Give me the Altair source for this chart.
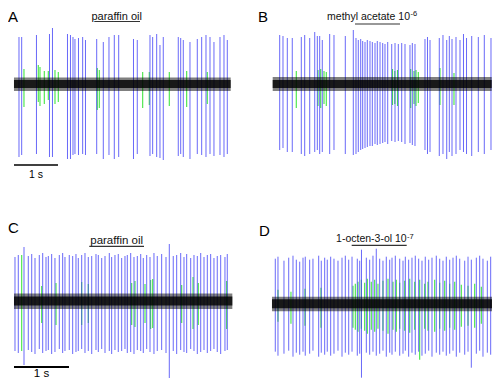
import altair as alt
import pandas as pd

# ---------------- data (time in s, amplitude in arbitrary units) ----------------
# Panel A: paraffin oil
A_blue_t = [0.114, 0.175, 0.511, 0.807, 0.875, 1.216, 1.284, 1.341, 1.386, 1.466, 1.561, 1.625,
            1.880, 2.030, 2.159, 2.280, 2.380, 2.716, 2.802, 3.091, 3.152, 3.243, 3.318, 3.393,
            3.734, 3.789, 3.848, 4.000, 4.166, 4.266, 4.364, 4.455, 4.545, 4.682, 4.773, 4.848]
A_blue_top = [47, 47, 49, 50, 56, 50, 49, 47, 45, 46, 47, 44, 45, 42, 47, 49, 49, 45, 44, 49,
              47, 50, 39, 47, 47, 46, 44, 42, 45, 47, 49, 47, 42, 47, 49, 44]
A_blue_bot = [-73, -71, -70, -73, -73, -75, -75, -71, -70, -71, -70, -71, -70, -75, -71, -75,
              -73, -75, -70, -72, -70, -73, -74, -76, -72, -70, -73, -75, -70, -71, -73, -70,
              -72, -71, -73, -70]
A_green_t = [0.227, 0.552, 0.591, 0.689, 0.780, 0.932, 1.007, 1.893, 1.939, 2.925, 3.075, 3.530, 3.925, 4.393]
A_green_top = [15, 19, 17, 13, 13, 14, 12, 16, 14, 12, 12, 12, 13, 12]
A_green_bot = [-23, -18, -22, -20, -16, -20, -18, -26, -24, -24, -21, -22, -23, -20]

# Panel B: methyl acetate 10^-6
B_blue_t = [0.159, 0.234, 0.332, 0.445, 0.650, 0.727, 0.841, 0.955, 1.014, 1.068, 1.127, 1.295,
            1.393, 1.650, 1.832, 1.893, 1.945, 2.000, 2.045, 2.098, 2.150, 2.211, 2.264, 2.325,
            2.377, 2.439, 2.500, 2.552, 2.614, 2.705, 2.780, 2.855, 2.932, 3.007, 3.120, 3.173,
            3.234, 3.461, 3.518, 3.575, 3.786, 3.870, 3.955, 4.014, 4.075, 4.166, 4.257, 4.336,
            4.405, 4.523, 4.673, 4.809, 4.961]
B_blue_top = [49, 48, 46, 46, 47, 49, 46, 52, 48, 48, 44, 50, 49, 48, 54, 46, 44, 45, 43, 42,
              44, 43, 42, 41, 43, 42, 41, 40, 42, 40, 41, 40, 41, 40, 39, 41, 40, 45, 47, 44,
              46, 49, 44, 48, 45, 47, 44, 50, 46, 48, 47, 49, 46]
B_blue_bot = [-66, -64, -68, -68, -70, -72, -70, -68, -66, -70, -68, -70, -66, -70, -71, -70,
              -68, -66, -65, -64, -63, -62, -62, -60, -61, -60, -59, -58, -60, -57, -58, -57,
              -58, -60, -59, -61, -62, -66, -70, -68, -72, -70, -75, -68, -72, -70, -66, -68,
              -70, -72, -68, -70, -66]
B_green_t = [0.536, 1.030, 1.091, 1.166, 1.218, 2.723, 2.775, 2.836, 3.136, 3.211, 3.257, 3.309, 3.802, 4.120]
B_green_top = [13, 14, 15, 13, 12, 15, 13, 14, 15, 13, 14, 12, 16, 11]
B_green_bot = [-24, -22, -24, -20, -22, -21, -20, -22, -24, -20, -22, -19, -21, -21]

# Panel C: paraffin oil
C_blue_t = [0.018, 0.078, 0.182, 0.260, 0.322, 0.382, 0.460, 0.522, 0.582, 0.624, 0.685, 0.745,
            0.824, 0.885, 0.927, 1.005, 1.067, 1.127, 1.169, 1.231, 1.291, 1.351, 1.413, 1.491,
            1.533, 1.595, 1.655, 1.733, 1.776, 1.836, 1.896, 1.958, 2.018, 2.060, 2.122, 2.182,
            2.242, 2.304, 2.351, 2.413, 2.473, 2.545, 2.605, 2.685, 2.764, 2.824, 2.896, 2.958,
            3.031, 3.091, 3.140, 3.213, 3.273, 3.333, 3.395, 3.455, 3.515, 3.576, 3.636, 3.696,
            3.758, 3.836, 3.878]
C_blue_top = [44, 46, 54, 45, 47, 43, 46, 48, 44, 45, 47, 43, 46, 48, 44, 46, 45, 47, 43, 46,
              48, 44, 45, 47, 46, 43, 45, 48, 44, 46, 47, 43, 45, 46, 48, 44, 45, 47, 43, 46,
              44, 48, 45, 47, 44, 57, 45, 46, 48, 44, 47, 43, 46, 45, 48, 44, 46, 47, 43, 45,
              46, 44, 47]
C_blue_bot = [-50, -52, -64, -49, -51, -53, -48, -52, -50, -49, -53, -51, -48, -52, -50, -49,
              -53, -51, -50, -48, -52, -50, -53, -49, -51, -48, -52, -50, -53, -49, -51, -50,
              -48, -52, -51, -53, -49, -50, -52, -48, -51, -53, -50, -49, -52, -78, -50, -53,
              -49, -51, -52, -48, -50, -53, -51, -49, -52, -50, -48, -51, -53, -50, -49]
C_green_t = [0.140, 0.504, 0.764, 1.231, 1.351, 2.140, 2.200, 2.382, 2.485, 2.522, 3.049, 3.255, 3.351, 3.867]
C_green_top = [46, 15, 18, 19, 17, 18, 20, 17, 21, 22, 16, 24, 18, 20]
C_green_bot = [-50, -22, -24, -24, -22, -24, -26, -22, -28, -27, -22, -28, -24, -28]

# Panel D: 1-octen-3-ol 10^-7
D_blue_t = [0.060, 0.109, 0.218, 0.304, 0.382, 0.442, 0.504, 0.564, 0.605, 0.685, 0.745, 0.849,
            0.896, 0.958, 1.005, 1.067, 1.127, 1.200, 1.273, 1.333, 1.395, 1.455, 1.551, 1.595,
            1.627, 1.715, 1.776, 1.836, 1.896, 1.958, 2.018, 2.078, 2.140, 2.182, 2.242, 2.322,
            2.382, 2.424, 2.485, 2.545, 2.605, 2.667, 2.727, 2.787, 2.849, 2.909, 2.987, 3.049,
            3.109, 3.169, 3.231, 3.291, 3.351, 3.413, 3.504, 3.564, 3.624, 3.715, 3.776, 3.836,
            3.915, 3.976, 4.036, 4.109]
D_blue_top = [45, 47, 43, 46, 48, 44, 42, 46, 47, 44, 45, 48, 43, 46, 44, 47, 45, 43, 46, 48,
              44, 47, 45, 43, 54, 46, 44, 48, 55, 45, 43, 47, 44, 46, 48, 45, 43, 47, 44, 46,
              48, 45, 43, 47, 44, 46, 48, 45, 43, 47, 44, 46, 48, 45, 43, 47, 44, 46, 48, 45,
              43, 47, 44, 46]
D_blue_bot = [-48, -52, -50, -47, -53, -49, -51, -48, -52, -50, -47, -53, -49, -51, -48, -52,
              -50, -47, -53, -49, -51, -48, -52, -50, -74, -49, -51, -48, -52, -50, -47, -53,
              -49, -51, -48, -52, -50, -47, -53, -49, -51, -48, -52, -50, -47, -53, -49, -51,
              -48, -52, -50, -47, -53, -49, -51, -48, -64, -50, -47, -53, -49, -51, -48, -52]
D_green_t = [0.109, 0.345, 0.600, 0.891, 1.473, 1.515, 1.564, 1.624, 1.685, 1.733, 1.805, 1.867,
             1.927, 2.018, 2.109, 2.200, 2.260, 2.322, 2.413, 2.504, 2.595, 2.685, 2.776, 2.836,
             2.958, 3.049, 3.140, 3.231, 3.322, 3.442, 3.564, 3.685, 3.806]
D_green_top = [14, 12, 15, 16, 18, 20, 22, 24, 21, 25, 22, 24, 20, 23, 25, 22, 24, 21, 23, 25,
               22, 24, 20, 22, 24, 21, 23, 20, 22, 19, 18, 20, 17]
D_green_bot = [-18, -20, -22, -24, -24, -26, -28, -25, -27, -30, -26, -28, -25, -27, -30, -26,
               -28, -25, -27, -29, -26, -56, -25, -27, -28, -25, -27, -24, -26, -23, -22, -24, -20]

# recording durations (s), noise band levels (core and fringe), stimulus periods (s)
durations = [4.925, 4.977, 3.970, 4.145]
noise_core = [4.0, 4.0, 4.5, 4.5]
noise_hi = [6.5, 7.0, 7.5, 7.0]
noise_lo = [-7.0, -7.0, -8.0, -7.5]
stim_on = [1.825, 1.870, 1.369, 1.449]
stim_off = [2.864, 2.893, 2.364, 2.449]
odor_labels = ["paraffin oil", "methyl acetate 10", "paraffin oil", "1-octen-3-ol 10"]
odor_exps = ["", "-6", "", "-7"]
panel_letters = ["A", "B", "C", "D"]

FONT = "Liberation Sans"
BLUE = "#4343f6"
GREEN = "#22e022"


def panel(i, bt, btop, bbot, gt, gtop, gbot, xdom, ydom, size, lab, sup, letter_pos, scalebar):
    xs = alt.Scale(domain=xdom, nice=False, zero=False)
    ys = alt.Scale(domain=ydom, nice=False, zero=False)

    def X(f):
        return alt.X(f, type="quantitative", scale=xs, axis=None)

    def Y(f):
        return alt.Y(f, type="quantitative", scale=ys, axis=None)

    blue = pd.DataFrame({"t": bt, "top": btop, "bot": bbot})
    green = pd.DataFrame({"t": gt, "top": gtop, "bot": gbot})
    noise = pd.DataFrame({"t0": [0.0], "t1": [durations[i]], "hi": [noise_hi[i]], "lo": [noise_lo[i]],
                          "chi": [noise_core[i]], "clo": [-noise_core[i]]})
    stim = pd.DataFrame({"on": [stim_on[i]], "off": [stim_off[i]], "v": [lab["bar_v"]]})

    layers = [
        alt.Chart(green).mark_rule(color=GREEN, strokeWidth=1.1, opacity=0.85, clip=True).encode(
            x=X("t"), y=Y("top"), y2=alt.Y2("bot")),
        alt.Chart(blue).mark_rule(color=BLUE, strokeWidth=1, opacity=0.8, clip=True).encode(
            x=X("t"), y=Y("top"), y2=alt.Y2("bot")),
        alt.Chart(noise).mark_rect(color="#000000", opacity=0.5, clip=True).encode(
            x=X("t0"), x2=alt.X2("t1"), y=Y("hi"), y2=alt.Y2("lo")),
        alt.Chart(noise).mark_rect(color="#000000", opacity=0.8, clip=True).encode(
            x=X("t0"), x2=alt.X2("t1"), y=Y("chi"), y2=alt.Y2("clo")),
        alt.Chart(stim).mark_rule(color="#333333", strokeWidth=1.2).encode(
            x=X("on"), x2=alt.X2("off"), y=Y("v")),
    ]
    title = pd.DataFrame({"t": [lab["t"]], "v": [lab["v"]], "s": [odor_labels[i]]})
    layers.append(alt.Chart(title).mark_text(
        font=FONT, fontSize=lab["size"], align=lab["align"], baseline="alphabetic", color="#111111"
    ).encode(x=X("t"), y=Y("v"), text="s:N"))
    if odor_exps[i]:
        sp = pd.DataFrame({"t": [sup["t"]], "v": [sup["v"]], "s": [odor_exps[i]]})
        layers.append(alt.Chart(sp).mark_text(
            font=FONT, fontSize=7.5, align="left", baseline="alphabetic", color="#111111"
        ).encode(x=X("t"), y=Y("v"), text="s:N"))
    if scalebar:
        sb = pd.DataFrame({"a": [0.0], "b": [1.0], "v": [scalebar["v"]]})
        layers.append(alt.Chart(sb).mark_rule(color="#000000", strokeWidth=scalebar["w"]).encode(
            x=X("a"), x2=alt.X2("b"), y=Y("v")))
        st = pd.DataFrame({"t": [0.5], "v": [scalebar["tv"]], "s": ["1 s"]})
        layers.append(alt.Chart(st).mark_text(
            font=FONT, fontSize=scalebar["fs"], align="center", baseline="alphabetic", color="#000000"
        ).encode(x=X("t"), y=Y("v"), text="s:N"))
    lt = pd.DataFrame({"s": [panel_letters[i]]})
    layers.append(alt.Chart(lt).mark_text(
        font=FONT, fontSize=15, align="left", baseline="alphabetic", color="#000000"
    ).encode(x=alt.value(letter_pos[0]), y=alt.value(letter_pos[1]), text="s:N"))
    return alt.layer(*layers).properties(width=size[0], height=size[1])


pA = panel(0, A_blue_t, A_blue_top, A_blue_bot, A_green_t, A_green_top, A_green_bot,
           [-0.136, 5.455], [-115, 76], (246, 191),
           {"t": 2.334, "v": 64.5, "size": 11, "align": "center", "bar_v": 62.5}, None,
           (0, 14), {"v": -81, "w": 1.5, "tv": -94.3, "fs": 10.5})
pB = panel(1, B_blue_t, B_blue_top, B_blue_bot, B_green_t, B_green_top, B_green_bot,
           [-0.425, 4.984], [-115, 76], (238, 191),
           {"t": 3.120, "v": 64.5, "size": 10.5, "align": "right", "bar_v": 60}, {"t": 3.132, "v": 68},
           (4, 14), None)
pC = panel(2, C_blue_t, C_blue_top, C_blue_bot, C_green_t, C_green_top, C_green_bot,
           [-0.109, 4.364], [-77, 102], (246, 179),
           {"t": 1.867, "v": 57.5, "size": 11.5, "align": "center", "bar_v": 54.7}, None,
           (0, 34), {"v": -66, "w": 2, "tv": -76, "fs": 11.5})
pD = panel(3, D_blue_t, D_blue_top, D_blue_bot, D_green_t, D_green_top, D_green_bot,
           [-0.327, 4.0], [-74.3, 104.7], (238, 179),
           {"t": 2.449, "v": 61.7, "size": 10.5, "align": "right", "bar_v": 58.4}, {"t": 2.455, "v": 65.2},
           (5, 37), None)

chart = alt.concat(pA, pB, pC, pD, columns=2, spacing=0, bounds="flush").properties(
    padding=0, background="white"
).configure_view(stroke=None)

chart.save("out.html", embed_options={"renderer": "svg", "actions": False})
